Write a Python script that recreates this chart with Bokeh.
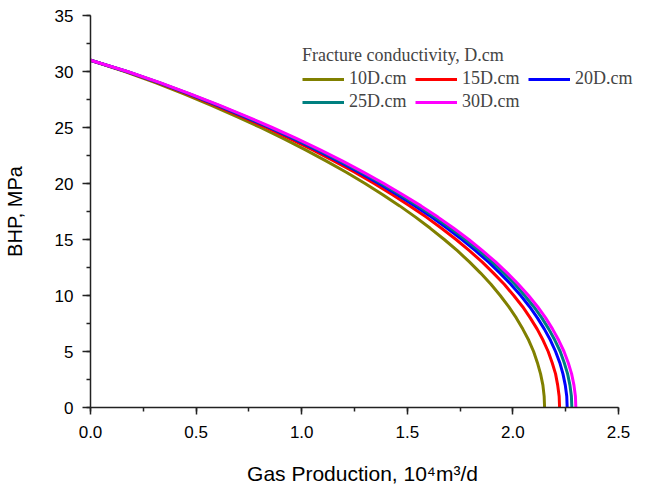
from bokeh.plotting import figure
from bokeh.models import (Range1d, SingleIntervalTicker, NumeralTickFormatter,
                          Legend, LegendItem)
from bokeh.embed import file_html
from bokeh.resources import INLINE

# Bottom-hole pressure levels (MPa) shared by all curves
bhp = [31, 30, 29, 28, 27, 26, 25, 24, 23, 22, 21, 20, 19, 18, 17, 16,
       15, 14, 13, 12, 11, 10, 9, 8, 7, 6, 5, 4, 3, 2, 1, 0]

# Gas production (10^4 m^3/d) read for each fracture conductivity
q_10 = [0.0, 0.163, 0.307, 0.442, 0.569, 0.690, 0.805, 0.914, 1.018, 1.117,
        1.211, 1.300, 1.384, 1.464, 1.539, 1.609, 1.675, 1.737, 1.794, 1.847,
        1.896, 1.940, 1.980, 2.016, 2.047, 2.075, 2.098, 2.116, 2.131, 2.142,
        2.148, 2.150]
q_15 = [0.0, 0.169, 0.318, 0.457, 0.588, 0.713, 0.832, 0.944, 1.052, 1.154,
        1.251, 1.343, 1.430, 1.512, 1.590, 1.662, 1.731, 1.794, 1.854, 1.908,
        1.959, 2.004, 2.046, 2.082, 2.115, 2.143, 2.167, 2.186, 2.202, 2.212,
        2.219, 2.221]
q_20 = [0.0, 0.172, 0.323, 0.464, 0.598, 0.724, 0.845, 0.960, 1.069, 1.173,
        1.271, 1.365, 1.453, 1.537, 1.615, 1.689, 1.759, 1.823, 1.884, 1.939,
        1.990, 2.037, 2.079, 2.116, 2.149, 2.178, 2.202, 2.222, 2.237, 2.248,
        2.255, 2.257]
q_25 = [0.0, 0.173, 0.326, 0.469, 0.604, 0.732, 0.853, 0.969, 1.079, 1.184,
        1.283, 1.378, 1.467, 1.552, 1.631, 1.706, 1.776, 1.841, 1.902, 1.958,
        2.010, 2.056, 2.099, 2.137, 2.170, 2.199, 2.224, 2.243, 2.259, 2.270,
        2.277, 2.279]
q_30 = [0.0, 0.175, 0.329, 0.472, 0.609, 0.738, 0.860, 0.977, 1.088, 1.194,
        1.294, 1.389, 1.479, 1.565, 1.645, 1.720, 1.791, 1.856, 1.918, 1.974,
        2.026, 2.074, 2.117, 2.155, 2.188, 2.217, 2.242, 2.262, 2.278, 2.289,
        2.296, 2.298]

series_names = ["10D.cm", "15D.cm", "20D.cm", "25D.cm", "30D.cm"]
series_q = [q_10, q_15, q_20, q_25, q_30]
colors = ["#808000", "#FF0000", "#0000FF", "#008080", "#FF00FF"]

X_MAX = 2.5
Y_MAX = 35
AXIS_PX = 528          # pixel length of the drawn x axis
EXTRA_PX = 16          # extra frame room so the legend is not clipped
x_end = X_MAX * (AXIS_PX + EXTRA_PX) / AXIS_PX

p = figure(frame_width=AXIS_PX + EXTRA_PX, frame_height=392,
           output_backend="svg", toolbar_location=None,
           x_range=Range1d(0, x_end), y_range=Range1d(0, Y_MAX),
           min_border_left=90, min_border_right=0,
           min_border_top=15, min_border_bottom=65)
p.outline_line_color = None
p.xgrid.visible = False
p.ygrid.visible = False

items = []
for name, q, c in zip(series_names, series_q, colors):
    r = p.line(q, bhp, line_color=c, line_width=3, line_join="round")
    items.append(LegendItem(label=name, renderers=[r]))

p.xaxis.ticker = SingleIntervalTicker(interval=0.5, num_minor_ticks=2)
p.yaxis.ticker = SingleIntervalTicker(interval=5, num_minor_ticks=2)
p.xaxis.formatter = NumeralTickFormatter(format="0.0")
p.xaxis.bounds = (0, X_MAX)

for ax in (p.xaxis[0], p.yaxis[0]):
    ax.axis_line_color = "#222222"
    ax.axis_line_width = 1.5
    ax.major_tick_line_color = "#222222"
    ax.minor_tick_line_color = "#222222"
    ax.major_tick_line_width = 1.5
    ax.minor_tick_line_width = 1.5
    ax.major_tick_in = 0
    ax.minor_tick_in = 0
    ax.minor_tick_out = 4
    ax.major_label_text_font = "Liberation Sans"
    ax.major_label_text_font_size = "17px"
    ax.major_label_text_color = "black"
    ax.axis_label_text_font = "Liberation Sans"
    ax.axis_label_text_font_size = "20px"
    ax.axis_label_text_font_style = "normal"
    ax.axis_label_text_color = "black"

p.xaxis.axis_label_text_font_size = "21px"
p.xaxis.major_tick_out = 7
p.yaxis.major_tick_out = 8
p.xaxis.axis_label = "Gas Production, 10\u2074m\u00b3/d"
p.yaxis.axis_label = "BHP, MPa"
p.xaxis.major_label_standoff = 11
p.yaxis.major_label_standoff = 9
p.xaxis.axis_label_standoff = 21
p.yaxis.axis_label_standoff = 26

legend = Legend(items=items, location=(212, 295), orientation="horizontal",
                ncols=3, title="Fracture conductivity, D.cm")
legend.title_text_font = "Liberation Serif"
legend.title_text_font_size = "18px"
legend.title_text_font_style = "normal"
legend.title_standoff = 2
legend.label_text_font = "Liberation Serif"
legend.label_text_font_size = "18px"
legend.label_standoff = 5
legend.label_width = 64
legend.glyph_width = 42
legend.glyph_height = 16
legend.label_height = 16
legend.spacing = 2
legend.padding = 0
legend.margin = 0
legend.border_line_color = None
legend.background_fill_alpha = 0
p.add_layout(legend)

open("out.html", "w").write(file_html(p, INLINE))
